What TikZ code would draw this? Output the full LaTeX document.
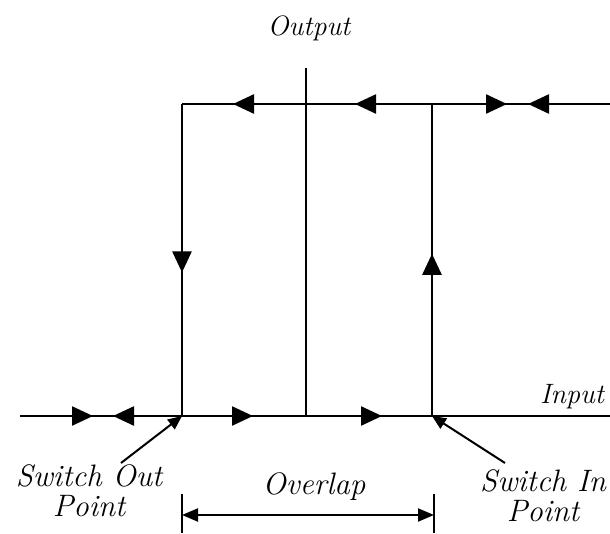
\documentclass[tikz,border=0pt]{standalone}
\usetikzlibrary{arrows.meta, decorations.markings}
\tikzset{
    wire/.style={line width=2.4pt},
    label/.style={font=\fontsize{28}{28}\selectfont\itshape, inner sep=0pt},
    biglabel/.style={font=\fontsize{31}{30}\selectfont\itshape, inner sep=0pt, align=center},
    tipat/.style={postaction={decorate}, decoration={markings, mark=at position #1 with {\arrow{Triangle[length=21pt, width=19pt]}}}},
    pointer/.style={line width=2pt, -{Triangle[length=14pt, width=12pt]}},
    dimarrow/.style={line width=2pt, {Triangle[length=16pt, width=13pt]}-{Triangle[length=16pt, width=13pt]}}
}

\begin{document}
\begin{tikzpicture}[x=1pt, y=-1pt]
    \useasboundingbox (0,0) rectangle (610,533);
    % corners and junctions
    \coordinate (topleft) at (182,104);
    \coordinate (topright) at (610,104);
    \coordinate (botleft) at (20,416);
    \coordinate (botright) at (610,416);
    \coordinate (swout) at (182,416);
    \coordinate (swin) at (432,416);
    \coordinate (swintop) at (432,104);
    \coordinate (outtop) at (306,68);
    \coordinate (outbot) at (306,416);
    \coordinate (outmid) at (306,104);

    % top line
    \draw[wire, tipat=82pt] (topright) -- (swintop);
    \draw[wire, tipat=75pt] (swintop) -- (topright);
    \draw[wire, tipat=77pt] (swintop) -- (outmid);
    \draw[wire, tipat=73pt] (outmid) -- (topleft);
    \draw[wire, tipat=0.54] (topleft) -- (swout);
    \draw[wire, tipat=0.52] (swin) -- (swintop);
    \draw[wire] (outtop) -- (outbot);

    % bottom line
    \draw[wire, tipat=73pt] (botleft) -- (swout);
    \draw[wire, tipat=69pt] (swout) -- (botleft);
    \draw[wire, tipat=71pt] (swout) -- (outbot);
    \draw[wire, tipat=76pt] (outbot) -- (swin);
    \draw[wire] (swin) -- (botright);

    % labels
    \node[label] (output) at (309,28) {Output};
    \node[label] (input) at (572,397) {Input};
    \node[biglabel] (outtext) at (89,491) {Switch Out\\Point};
    \node[biglabel] (intext) at (543,496) {Switch In\\Point};
    \node[biglabel] (overlap) at (314,487) {Overlap};

    % pointers
    \draw[pointer] (121,463) -- (swout);
    \draw[pointer] (505,463) -- (swin);

    % overlap dimension
    \coordinate (dimleft) at (182,515);
    \coordinate (dimright) at (434,515);
    \draw[line width=2pt] (182,494) -- (182,533);
    \draw[line width=2pt] (434,494) -- (434,533);
    \draw[dimarrow] (dimleft) -- (dimright);
\end{tikzpicture}
\end{document}
